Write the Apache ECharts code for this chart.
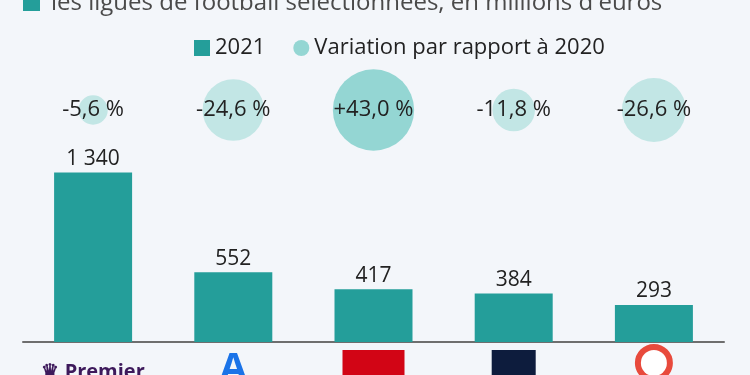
<!DOCTYPE html>
<html>
<head>
<meta charset="utf-8">
<script src="https://cdn.jsdelivr.net/npm/echarts@6/dist/echarts.min.js"></script>
<style>
  html, body { margin: 0; padding: 0; background: #f3f6fa; }
  #chart { width: 750px; height: 375px; }
</style>
</head>
<body>
<div id="chart"></div>
<script>
const categories = ['Premier League', 'Serie A', 'Bundesliga', 'Ligue 1', 'LaLiga'];
const revenue2021 = [1340, 552, 417, 384, 293];
const variation2020 = [-5.6, -24.6, 43.0, -11.8, -26.6];
const subtitleText = 'les ligues de football sélectionnées, en millions d\'euros';
const seriesNames = ['2021', 'Variation par rapport à 2020'];

const FONT = 'Open Sans';
const BAR = '#249e9a';
const POS = '#94d6d3';
const NEG = '#c2e6e5';

function fmtThousands(v) {
  return String(v).replace(/\B(?=(\d{3})+(?!\d))/g, ' ');
}
function fmtPct(v) {
  return (v > 0 ? '+' : '') + v.toFixed(1).replace('.', ',') + ' %';
}

const logoMap = {
  'Premier League': '{pl|♛ Premier}',
  'Serie A': '{sa|A}',
  'Bundesliga': '{bl| }',
  'Ligue 1': '{l1| }',
  'LaLiga': '{ll| }'
};

const chart = echarts.init(document.getElementById('chart'), null, { renderer: 'canvas' });
chart.setOption({
  backgroundColor: '#f3f6fa',
  animation: false,
  textStyle: { fontFamily: FONT },
  title: {
    text: subtitleText,
    left: 51,
    top: -9,
    padding: 0,
    textStyle: { fontFamily: FONT, fontSize: 24, fontWeight: 'normal', color: '#4a4a4a' }
  },
  graphic: [{
    type: 'rect',
    left: 23, top: -6,
    shape: { width: 17, height: 17 },
    style: { fill: BAR }
  }],
  legend: {
    left: 194,
    top: 37,
    padding: 0,
    itemWidth: 16,
    itemHeight: 16,
    itemGap: 28,
    textStyle: { fontFamily: FONT, fontSize: 22, color: '#222' },
    data: [
      { name: seriesNames[0], icon: 'rect' },
      { name: seriesNames[1], icon: 'circle' }
    ]
  },
  grid: [
    { left: 23, right: 26, top: 142, bottom: 33, outerBoundsMode: 'none', containLabel: false },
    { left: 23, right: 26, top: 70, height: 80, outerBoundsMode: 'none', containLabel: false }
  ],
  xAxis: [
    {
      type: 'category', gridIndex: 0, data: categories,
      axisLine: { lineStyle: { color: '#6e6e6e', width: 2 } },
      axisTick: { show: false },
      axisLabel: {
        interval: 0,
        margin: 8,
        formatter: (v) => logoMap[v],
        rich: {
          pl: { color: '#3d195b', fontSize: 20, fontWeight: 'bold', padding: [12, 0, 0, 0] },
          sa: { color: '#1a73e8', fontSize: 40, fontWeight: 'bold', lineHeight: 40 },
          bl: { backgroundColor: '#d20515', width: 62, height: 30 },
          l1: { backgroundColor: '#0d1c3d', width: 44, height: 30 },
          ll: { backgroundColor: '#ffffff', borderColor: '#e84a3c', borderWidth: 6, borderRadius: 19, width: 26, height: 26 }
        }
      }
    },
    {
      type: 'category', gridIndex: 1, data: categories,
      show: false
    }
  ],
  yAxis: [
    { type: 'value', gridIndex: 0, min: 0, max: 1580, show: false, splitLine: { show: false } },
    { type: 'value', gridIndex: 1, min: -1, max: 1, show: false, splitLine: { show: false } }
  ],
  series: [
    {
      name: seriesNames[0],
      type: 'bar',
      xAxisIndex: 0, yAxisIndex: 0,
      barWidth: 78,
      itemStyle: { color: BAR },
      data: revenue2021,
      label: {
        show: true,
        position: 'top',
        distance: 3,
        fontFamily: FONT,
        fontSize: 21,
        color: '#222',
        formatter: (p) => fmtThousands(p.value)
      }
    },
    {
      name: seriesNames[1],
      type: 'scatter',
      xAxisIndex: 1, yAxisIndex: 1,
      itemStyle: { color: POS, opacity: 1 },
      symbolSize: (val) => 12.4 * Math.sqrt(Math.abs(val[2])),
      data: variation2020.map((v, i) => ({
        value: [i, 0, v],
        itemStyle: { color: v >= 0 ? POS : NEG }
      })),
      label: {
        show: true,
        position: 'inside',
        fontFamily: FONT,
        fontSize: 22,
        color: '#222',
        formatter: (p) => fmtPct(p.value[2])
      },
      emphasis: { disabled: true }
    }
  ]
});
</script>
</body>
</html>
